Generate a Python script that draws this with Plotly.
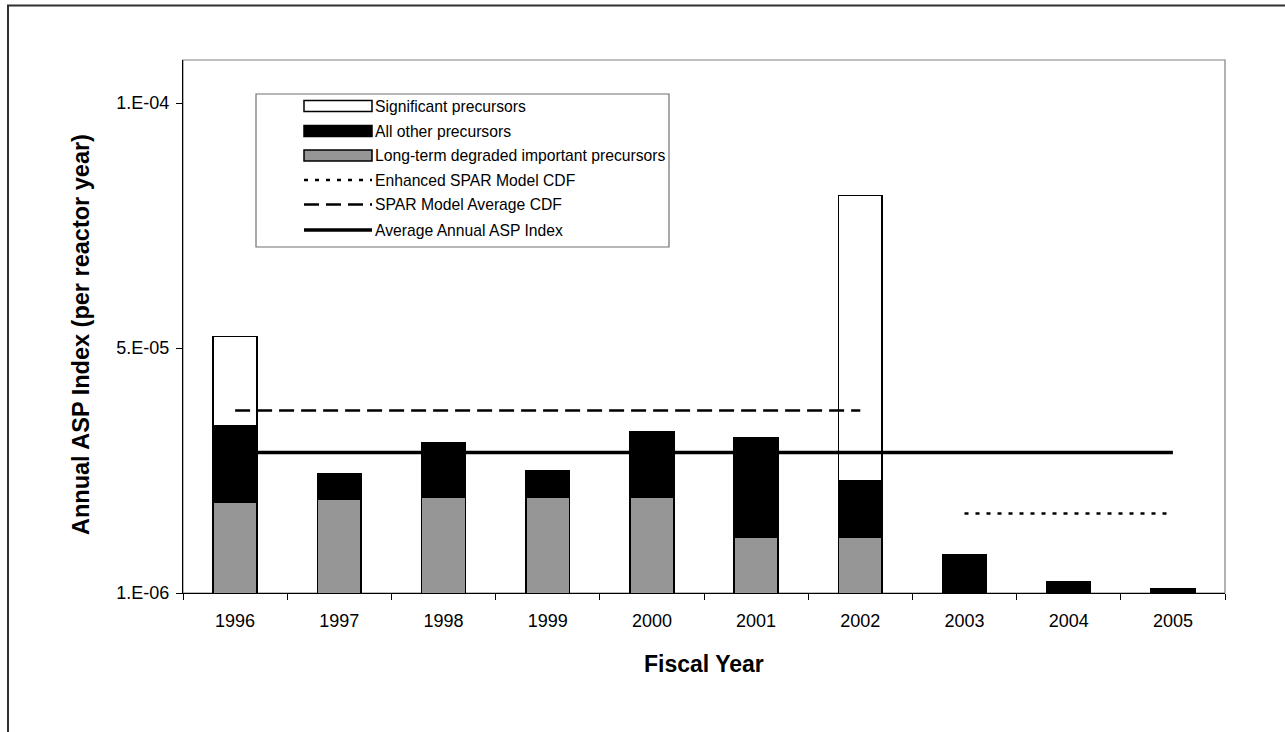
import plotly.graph_objects as go

# ---------------- data ----------------
years = ["1996", "1997", "1998", "1999", "2000", "2001", "2002", "2003", "2004", "2005"]
long_term_degraded = [1.91e-5, 1.97e-5, 2.01e-5, 2.01e-5, 2.01e-5, 1.21e-5, 1.21e-5, None, None, None]
all_other = [1.53e-5, 0.51e-5, 1.10e-5, 0.54e-5, 1.31e-5, 2.00e-5, 1.13e-5, 8.7e-6, 3.3e-6, 1.8e-6]
significant = [1.79e-5, None, None, None, None, None, 5.71e-5, None, None, None]

avg_annual_asp = [2.91e-5] * 10                       # 1996-2005
spar_avg_years = years[:7]
spar_avg_cdf = [3.75e-5] * 7                          # 1996-2002
enh_years = years[7:]
enhanced_spar_cdf = [1.69e-5] * 3                     # 2003-2005

y_tickvals = [1e-6, 5e-5, 9.9e-5]
y_ticktext = ["1.E-06", "5.E-05", "1.E-04"]

legend_labels = ["Significant precursors", "All other precursors",
                 "Long-term degraded important precursors", "Enhanced SPAR Model CDF",
                 "SPAR Model Average CDF", "Average Annual ASP Index"]

# ---------------- layout geometry (pixels) ----------------
W, H = 1285, 732
L, R, T, B = 183, 60, 60, 139
PW, PH = W - L - R, H - T - B
FONT = "Liberation Sans, Arial, sans-serif"


def px(x):
    return (x - L) / PW


def py(y):
    return 1 - (y - T) / PH


fig = go.Figure()

bar_line = dict(color="black", width=1.5)
fig.add_bar(x=years, y=long_term_degraded, marker=dict(color="#969696", line=bar_line),
            name=legend_labels[2], showlegend=False)
fig.add_bar(x=years, y=all_other, marker=dict(color="black", line=bar_line),
            name=legend_labels[1], showlegend=False)
fig.add_bar(x=years, y=significant, marker=dict(color="white", line=bar_line),
            name=legend_labels[0], showlegend=False)

fig.add_scatter(x=years, y=avg_annual_asp, mode="lines",
                line=dict(color="black", width=3.3), showlegend=False)
fig.add_scatter(x=spar_avg_years, y=spar_avg_cdf, mode="lines",
                line=dict(color="black", width=2.3, dash="15px,7px"), showlegend=False)
fig.add_scatter(x=enh_years, y=enhanced_spar_cdf, mode="lines",
                line=dict(color="black", width=2.3, dash="4px,7px"), showlegend=False)

shapes = []
annotations = []

# outer chart border
shapes.append(dict(type="rect", xref="paper", yref="paper",
                   x0=px(8), x1=px(1300), y0=py(760), y1=py(5.5),
                   line=dict(color="#303030", width=2), layer="below"))
# plot area border
shapes.append(dict(type="rect", xref="paper", yref="paper",
                   x0=0, x1=1, y0=0, y1=1,
                   line=dict(color="#808080", width=1.2), layer="below"))

# custom legend
shapes.append(dict(type="rect", xref="paper", yref="paper",
                   x0=px(256), x1=px(669), y0=py(247), y1=py(94),
                   line=dict(color="#707070", width=1.2), fillcolor="white", layer="above"))
rows = [106, 131, 155.5, 180, 204.5, 230]
sx0, sx1 = 304, 372
fills = ["white", "black", "#969696"]
for i in range(3):
    shapes.append(dict(type="rect", xref="paper", yref="paper",
                       x0=px(sx0), x1=px(sx1), y0=py(rows[i] + 5.5), y1=py(rows[i] - 5.5),
                       line=dict(color="black", width=1.5), fillcolor=fills[i], layer="above"))
line_styles = [dict(color="black", width=2.3, dash="4px,7px"),
               dict(color="black", width=2.3, dash="15px,7px"),
               dict(color="black", width=3.3)]
for j, st in enumerate(line_styles):
    r = rows[3 + j]
    shapes.append(dict(type="line", xref="paper", yref="paper",
                       x0=px(sx0), x1=px(sx1), y0=py(r), y1=py(r), line=st, layer="above"))
for i, lab in enumerate(legend_labels):
    annotations.append(dict(text=lab, xref="paper", yref="paper", x=px(373), y=py(rows[i]),
                            xanchor="left", yanchor="middle", showarrow=False,
                            font=dict(family=FONT, size=15.7, color="black")))

# axis titles
annotations.append(dict(text="<b>Fiscal Year</b>", xref="paper", yref="paper",
                        x=0.5, y=py(664), xanchor="center", yanchor="middle", showarrow=False,
                        font=dict(family=FONT, size=23, color="black")))
annotations.append(dict(text="<b>Annual ASP Index (per reactor year)</b>", xref="paper", yref="paper",
                        x=px(81), y=py(335), xanchor="center", yanchor="middle", showarrow=False,
                        textangle=-90, font=dict(family=FONT, size=23.5, color="black")))

fig.update_layout(
    width=W, height=H,
    margin=dict(l=L, r=R, t=T, b=B, pad=0),
    paper_bgcolor="white", plot_bgcolor="white",
    barmode="stack", bargap=0.58,
    showlegend=False,
    font=dict(family=FONT, size=18, color="black"),
    shapes=shapes, annotations=annotations,
    xaxis=dict(type="category", tickson="boundaries", ticks="outside", ticklen=6,
               tickcolor="black", tickwidth=1, showline=True, linecolor="black", linewidth=1.2,
               showgrid=False, zeroline=False, ticklabelstandoff=11,
               tickfont=dict(family=FONT, size=18, color="black")),
    yaxis=dict(range=[1e-6, 1e-6 + PH / 5e6], tickvals=y_tickvals, ticktext=y_ticktext,
               ticks="outside", ticklen=6, tickcolor="black", tickwidth=1,
               showline=True, linecolor="black", linewidth=1.2, showgrid=False, zeroline=False,
               ticklabelstandoff=3,
               tickfont=dict(family=FONT, size=18, color="black")),
)

fig.write_html("out.html", config={"displayModeBar": False})
